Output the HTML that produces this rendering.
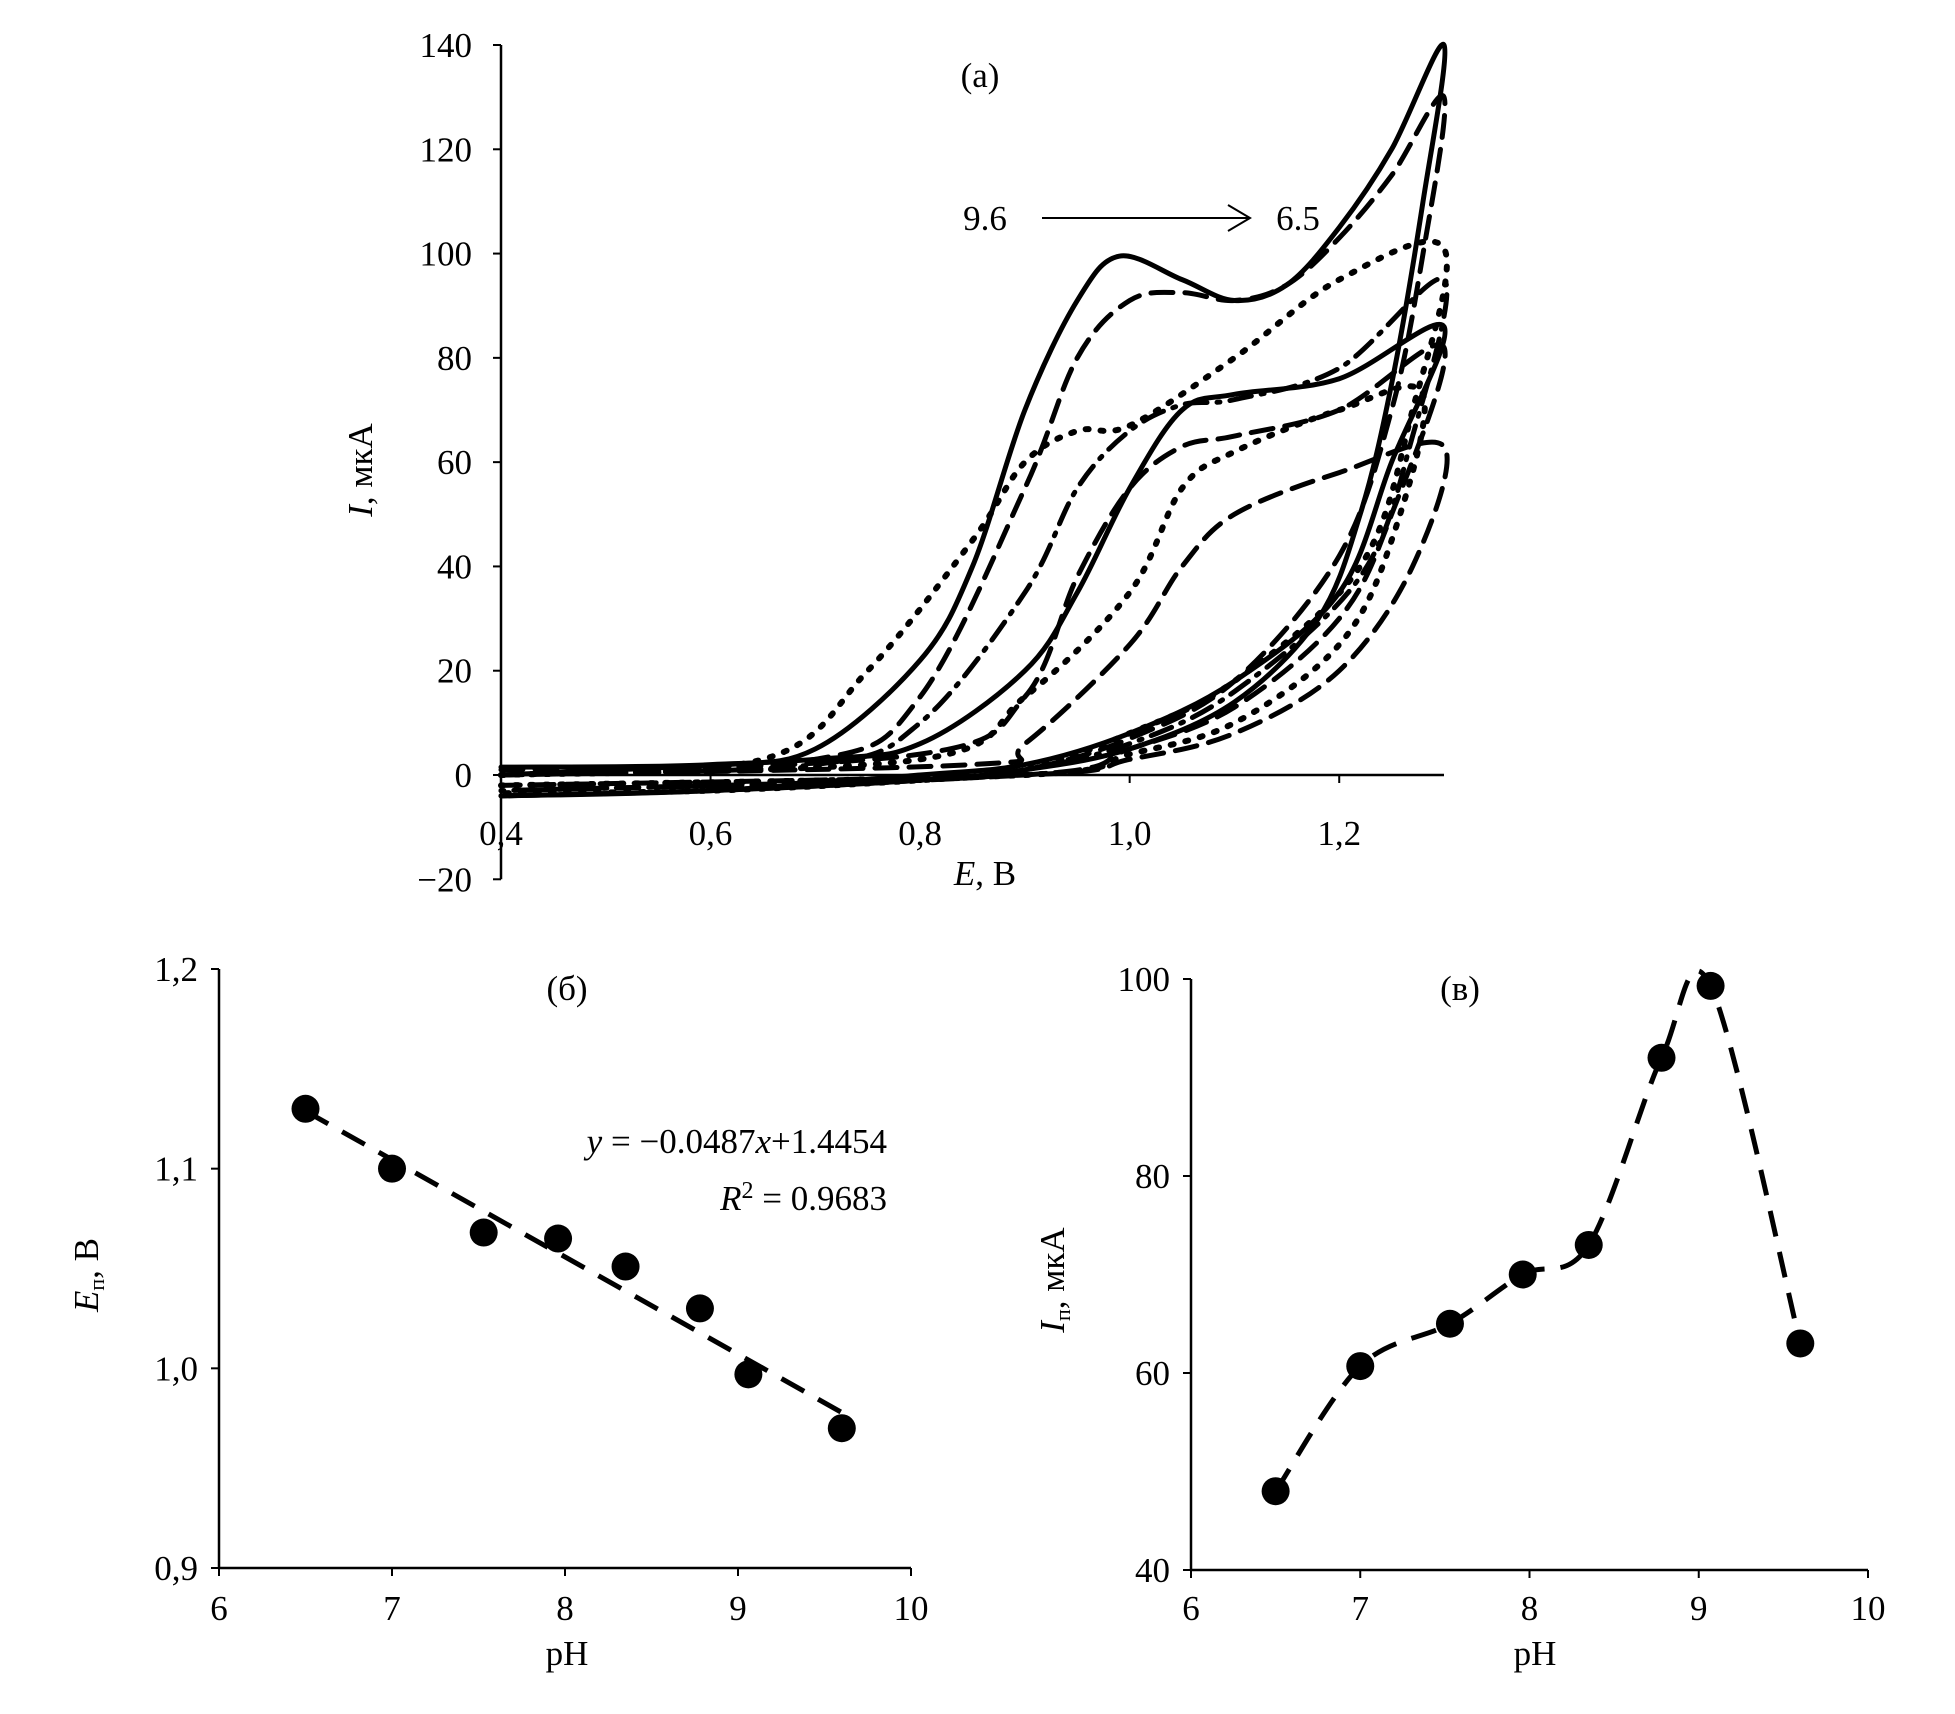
<!DOCTYPE html>
<html><head><meta charset="utf-8"><style>
html,body{margin:0;padding:0;background:#fff}
svg{display:block}
text{font-family:"Liberation Serif",serif;fill:#000}
</style></head><body>
<svg id="s" width="1955" height="1714" viewBox="0 0 1955 1714"></svg>
<script>
// ---- panel (a) data: cyclic voltammograms, each [E, I] pairs (forward then reverse)
const cvStyles = ["solid","dash","dot","dashdot","solid","dash","dot","dash"];
const cvCurves = [
 [[0.4,1.5],[0.6,2],[0.7,5],[0.8,22],[0.85,40],[0.9,70],[0.95,91],[0.99,99.5],[1.05,95],[1.1,91],[1.15,94],[1.2,105],[1.25,120],[1.3,140],[1.28,110],[1.25,75],[1.22,50],[1.18,30],[1.1,14],[1.0,5],[0.9,1],[0.8,-1],[0.6,-3],[0.4,-4]],
 [[0.4,1],[0.7,3],[0.8,15],[0.9,55],[0.95,80],[1.0,91],[1.05,92.5],[1.1,91],[1.15,94],[1.2,103],[1.25,115],[1.3,130],[1.28,100],[1.25,70],[1.2,42],[1.1,18],[1.0,7],[0.9,1],[0.8,-1],[0.6,-3],[0.4,-4]],
 [[0.4,0],[0.65,3],[0.75,20],[0.85,45],[0.9,60],[0.95,66],[1.0,67],[1.1,80],[1.2,95],[1.3,101],[1.27,70],[1.22,40],[1.1,18],[1.0,8],[0.9,1],[0.8,-1],[0.6,-3],[0.4,-3.5]],
 [[0.4,0],[0.7,2],[0.8,10],[0.9,35],[0.95,55],[1.0,66],[1.05,71],[1.1,72],[1.2,78],[1.3,95],[1.27,65],[1.22,38],[1.1,16],[1.0,6],[0.9,1],[0.8,-1],[0.4,-3]],
 [[0.4,0],[0.7,3],[0.8,6],[0.9,20],[0.95,35],[1.0,55],[1.05,70],[1.1,73],[1.2,76],[1.3,86],[1.25,60],[1.2,35],[1.1,18],[1.0,8],[0.9,2],[0.8,0],[0.6,-3],[0.4,-4]],
 [[0.4,0],[0.8,4],[0.9,15],[0.95,38],[1.0,55],[1.05,63],[1.1,65],[1.2,70],[1.3,82],[1.25,50],[1.2,30],[1.1,13],[1.0,5],[0.9,0],[0.4,-3]],
 [[0.4,0],[0.8,3],[0.9,15],[1.0,35],[1.05,55],[1.1,62],[1.2,70],[1.28,73],[1.25,45],[1.2,25],[1.1,10],[1.0,4],[0.9,0],[0.4,-2]],
 [[0.4,0],[0.85,2],[0.9,6],[1.0,25],[1.05,40],[1.1,50],[1.2,58],[1.3,63],[1.27,40],[1.2,20],[1.1,8],[1.0,3],[0.9,0],[0.4,-2]]
];
const aXTicks = [0.4,0.6,0.8,1.0,1.2];
const aXLabels = ["0,4","0,6","0,8","1,0","1,2"];
const aYTicks = [-20,0,20,40,60,80,100,120,140];
const aYLabels = ["\u221220","0","20","40","60","80","100","120","140"];
// ---- panel (б)
const bPH = [6.5,7.0,7.53,7.96,8.35,8.78,9.06,9.6];
const bE = [1.130,1.100,1.068,1.065,1.051,1.030,0.997,0.970];
const bSlope = -0.0487, bIntercept = 1.4454;
const bYTicks = [0.9,1.0,1.1,1.2];
const bYLabels = ["0,9","1,0","1,1","1,2"];
const phTicks = [6,7,8,9,10];
// ---- panel (в)
const cPH = [6.5,7.0,7.53,7.96,8.35,8.78,9.07,9.6];
const cI = [48,60.7,65,70,73,92,99.3,63];
const cYTicks = [40,60,80,100];

const S = document.getElementById('s');
const NS = "http://www.w3.org/2000/svg";
const FS = 35;
function el(tag, attrs, parent){const e=document.createElementNS(NS,tag);for(const k in attrs)e.setAttribute(k,attrs[k]);(parent||S).appendChild(e);return e;}
function txt(x,y,s,size,anchor,parent,name){const t=el('text',{x:x,y:y,'font-size':size,'text-anchor':anchor||'middle'},parent);t.textContent=s;


return t;}
function lin(d0,d1,r0,r1){return v=>r0+(v-d0)*(r1-r0)/(d1-d0);}
function crPath(pts){let d="M"+pts[0][0]+","+pts[0][1];for(let i=0;i<pts.length-1;i++){const p0=pts[i-1]||pts[i],p1=pts[i],p2=pts[i+1],p3=pts[i+2]||p2;
d+=" C"+(p1[0]+(p2[0]-p0[0])/6)+","+(p1[1]+(p2[1]-p0[1])/6)+" "+(p2[0]-(p3[0]-p1[0])/6)+","+(p2[1]-(p3[1]-p1[1])/6)+" "+p2[0]+","+p2[1];}return d;}
const dashes={solid:"none",dash:"22,12",dot:"3,12",dashdot:"22,10,3,10"};

// ===== panel a
const ga=el('g',{});
const ax=lin(0.4,1.3,501,1444), ay=lin(0,140,775,45);
el('line',{x1:501,y1:ay(140),x2:501,y2:ay(-20),stroke:'#000','stroke-width':2.5},ga);
el('line',{x1:501,y1:ay(0),x2:1444,y2:ay(0),stroke:'#000','stroke-width':2.5},ga);
aYTicks.forEach((v,i)=>{el('line',{x1:493,y1:ay(v),x2:501,y2:ay(v),stroke:'#000','stroke-width':2},ga);txt(472,ay(v)+12,aYLabels[i],FS,'end',ga,'y-tick-label');});
aXTicks.forEach((v,i)=>{el('line',{x1:ax(v),y1:ay(0),x2:ax(v),y2:ay(0)+8,stroke:'#000','stroke-width':2},ga);txt(ax(v),ay(0)+70,aXLabels[i],FS,'middle',ga,'x-tick-label');});
cvCurves.forEach((c,i)=>{const p=el('path',{d:crPath(c.map(q=>[ax(q[0]),ay(q[1])])),fill:'none',stroke:'#000','stroke-width':cvStyles[i]=='dot'?6:5,'stroke-dasharray':dashes[cvStyles[i]],'stroke-linecap':'round'},ga);

});
txt(980,87,"(a)",FS,'middle',ga,'panel-a-title');
txt(985,230,"9.6",FS,'middle',ga,'ph-start-label');
txt(1298,230,"6.5",FS,'middle',ga,'ph-end-label');
el('line',{x1:1042,y1:218,x2:1248,y2:218,stroke:'#000','stroke-width':2},ga);
el('path',{d:'M1228,205 L1250,218 L1228,231',fill:'none',stroke:'#000','stroke-width':2},ga);
const ayt=el('text',{transform:'translate(372,470) rotate(-90)','font-size':FS,'text-anchor':'middle'},ga);ayt.innerHTML='<tspan font-style="italic">I</tspan>, мкА';

const axt=el('text',{x:985,y:885,'font-size':FS,'text-anchor':'middle'},ga);axt.innerHTML='<tspan font-style="italic">E</tspan>, В';


// ===== panel b
const gb=el('g',{});
const bx=lin(6,10,219,911), by=lin(0.9,1.2,1568,969);
el('line',{x1:219,y1:969,x2:219,y2:1568,stroke:'#000','stroke-width':2.5},gb);
el('line',{x1:219,y1:1568,x2:911,y2:1568,stroke:'#000','stroke-width':2.5},gb);
bYTicks.forEach((v,i)=>{el('line',{x1:211,y1:by(v),x2:219,y2:by(v),stroke:'#000','stroke-width':2},gb);txt(198,by(v)+12,bYLabels[i],FS,'end',gb,'y-tick-label');});
phTicks.forEach(v=>{el('line',{x1:bx(v),y1:1568,x2:bx(v),y2:1576,stroke:'#000','stroke-width':2},gb);txt(bx(v),1620,String(v),FS,'middle',gb,'x-tick-label');});
const tl=el('line',{x1:bx(bPH[0]),y1:by(bSlope*bPH[0]+bIntercept),x2:bx(bPH[bPH.length-1]),y2:by(bSlope*bPH[bPH.length-1]+bIntercept),stroke:'#000','stroke-width':5,'stroke-dasharray':'26,16'},gb);

bPH.forEach((v,i)=>{const c=el('circle',{cx:bx(v),cy:by(bE[i]),r:14,fill:'#000'},gb);

});
txt(567,1000,"(б)",FS,'middle',gb,'panel-b-title');
const eq=el('text',{x:887,y:1153,'font-size':FS,'text-anchor':'end'},gb);eq.innerHTML='<tspan font-style="italic">y</tspan> = −0.0487<tspan font-style="italic">x</tspan>+1.4454';

const r2=el('text',{x:887,y:1210,'font-size':FS,'text-anchor':'end'},gb);r2.innerHTML='<tspan font-style="italic">R</tspan><tspan dy="-12" font-size="24">2</tspan><tspan dy="12"> = 0.9683</tspan>';

const byt=el('text',{transform:'translate(98,1275) rotate(-90)','font-size':FS,'text-anchor':'middle'},gb);byt.innerHTML='<tspan font-style="italic">E</tspan><tspan font-size="22" dy="6">п</tspan><tspan dy="-6">, В</tspan>';

txt(567,1665,"pH",FS,'middle',gb,'x-axis-title');

// ===== panel c
const gc=el('g',{});
const cx=lin(6,10,1191,1868), cy=lin(40,100,1570,979);
el('line',{x1:1191,y1:979,x2:1191,y2:1570,stroke:'#000','stroke-width':2.5},gc);
el('line',{x1:1191,y1:1570,x2:1868,y2:1570,stroke:'#000','stroke-width':2.5},gc);
cYTicks.forEach(v=>{el('line',{x1:1183,y1:cy(v),x2:1191,y2:cy(v),stroke:'#000','stroke-width':2},gc);txt(1170,cy(v)+12,String(v),FS,'end',gc,'y-tick-label');});
phTicks.forEach(v=>{el('line',{x1:cx(v),y1:1570,x2:cx(v),y2:1578,stroke:'#000','stroke-width':2},gc);txt(cx(v),1620,String(v),FS,'middle',gc,'x-tick-label');});
const cl=el('path',{d:crPath(cPH.map((v,i)=>[cx(v),cy(cI[i])])),fill:'none',stroke:'#000','stroke-width':5,'stroke-dasharray':'26,16'},gc);

cPH.forEach((v,i)=>{const c=el('circle',{cx:cx(v),cy:cy(cI[i]),r:14,fill:'#000'},gc);

});
txt(1460,1000,"(в)",FS,'middle',gc,'panel-c-title');
const cyt=el('text',{transform:'translate(1064,1280) rotate(-90)','font-size':FS,'text-anchor':'middle'},gc);cyt.innerHTML='<tspan font-style="italic">I</tspan><tspan font-size="22" dy="6">п</tspan><tspan dy="-6">, мкА</tspan>';

txt(1535,1665,"pH",FS,'middle',gc,'x-axis-title');
</script>
</body></html>
